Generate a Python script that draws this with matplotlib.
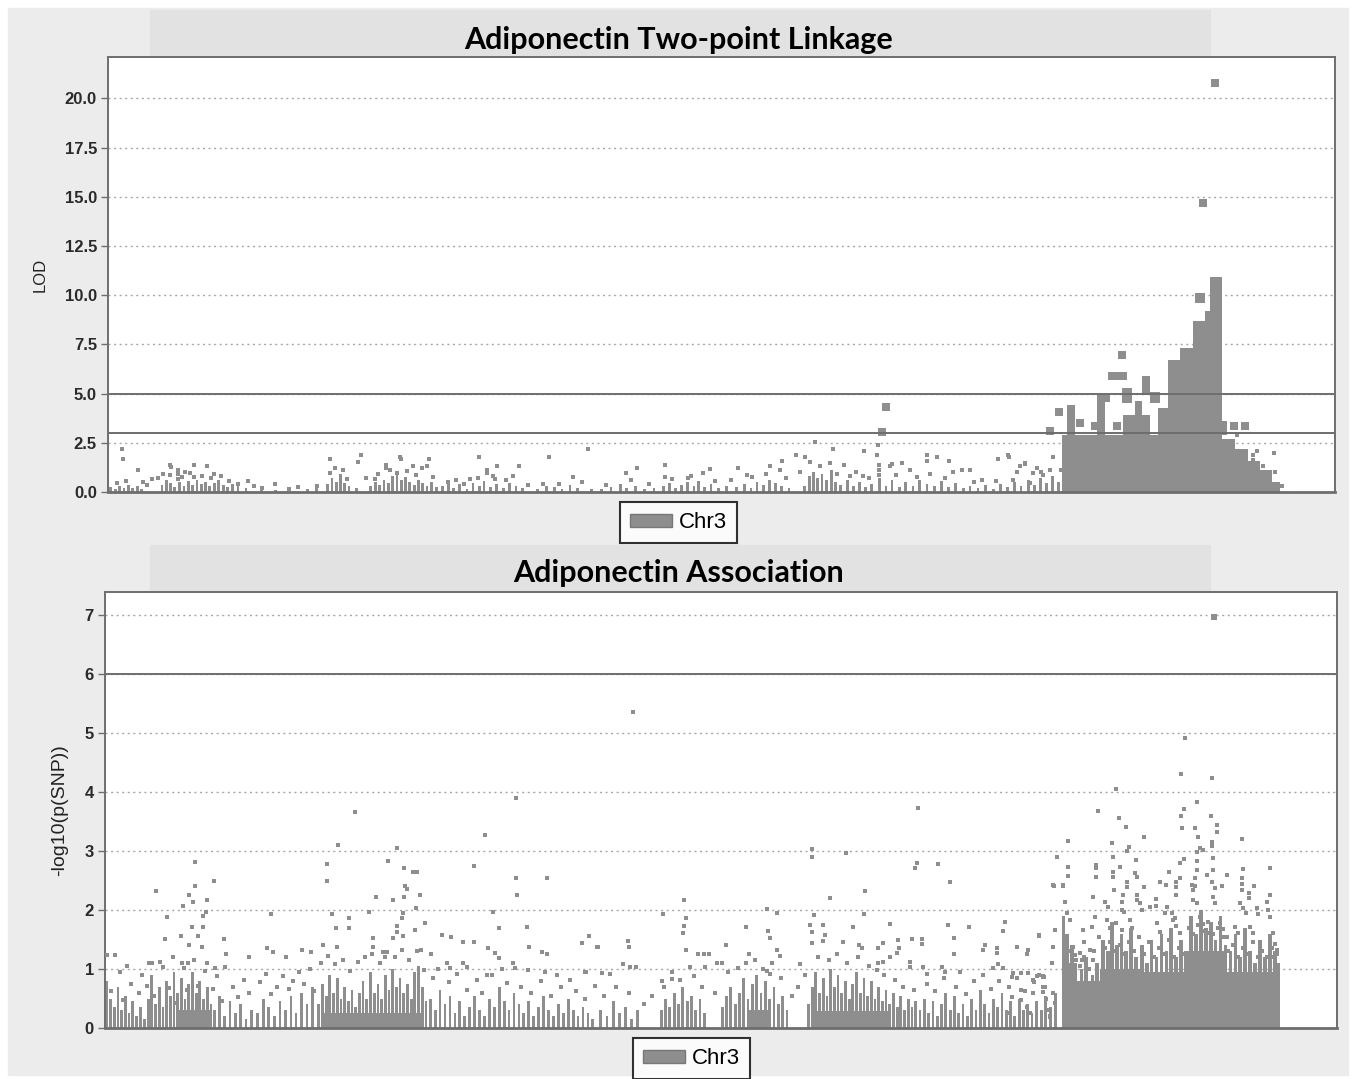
import matplotlib.pyplot as plt
from matplotlib.patches import Rectangle, Patch

GRAY = "#8e8e8e"
FRAME = "#6e6e6e"

# ---------------- two-point linkage (LOD), positions in Mb on Chr3 ----------------
lod_pos = [2.3, 2.4, 4.9, 7.2, 5.7, 10.1, 10.2, 11.4, 11.4, 12.5, 14.0, 16.1, 14.0, 15.3, 17.3,
           10.1, 11.4, 22.8, 21.2, 27.2, 25.1, 34.1, 36.2, 36.2, 38.3, 41.2, 40.8, 45.3, 45.3,
           47.6, 47.8, 49.7, 51.2, 52.3, 52.0, 43.5, 47.1, 60.5, 61.8, 61.8, 63.4, 67.0, 66.0,
           59.0, 60.3, 63.1, 71.9, 78.2, 75.8, 70.9, 55.4,
           115.2, 125.5, 118.2, 123.2, 125.3, 112.1, 113.6, 114.4, 109.9, 117.7, 120.0, 127.8,
           129.4, 133.5, 133.5, 135.1, 137.1, 145.1, 146.9, 149.5, 90.8, 86.2, 84.4, 98.1,
           102.7, 107.9, 109.5, 125.7, 125.7, 125.7, 127.5, 130.7, 137.7, 139.2, 140.5, 148.2,
           152.4, 123.1, 90.8, 104.2, 94.5, 97.0,
           146.7, 154.0, 148.6, 149.5, 150.8, 152.0, 155.4, 147.5, 150.3,
           184.0, 186.7, 186.7, 190.0, 190.3, 187.3, 188.2, 191.3, 189.0,
           1.5, 3.0, 6.3, 8.2, 9.0, 12.0, 13.4, 16.8, 18.5, 19.8, 23.8, 29.5, 31.0, 37.0, 39.0,
           42.0, 44.0, 46.0, 48.8, 50.2, 53.0, 56.8, 58.0, 62.8, 64.8, 68.5, 73.5, 77.2, 81.2,
           85.2, 88.2, 92.0, 95.0, 99.0, 101.5, 105.0, 107.2, 110.5, 112.8, 116.0, 118.9, 121.0,
           122.0, 124.0, 128.5, 131.8, 134.0, 136.5, 141.2, 142.5, 144.8, 151.5, 153.5]
lod_val = [2.2, 1.7, 1.1, 0.65, 0.5, 1.35, 1.25, 1.1, 0.9, 1.0, 1.35, 1.3, 0.75, 0.8, 0.9,
           0.85, 0.65, 0.55, 0.4, 0.4, 0.2, 0.3, 1.7, 0.95, 1.1, 1.9, 1.5, 1.35, 1.2,
           1.8, 1.7, 1.3, 1.2, 1.7, 1.3, 0.65, 0.95, 1.8, 1.1, 0.95, 1.3, 1.3, 0.8,
           0.65, 0.7, 0.65, 1.8, 2.2, 0.75, 0.4, 0.5,
           2.55, 2.4, 2.2, 2.1, 1.9, 1.9, 1.8, 1.5, 1.6, 1.45, 1.35, 1.4,
           1.45, 1.9, 1.6, 1.8, 1.6, 1.7, 1.8, 1.4, 1.35, 1.2, 0.95, 1.15,
           1.2, 1.3, 1.1, 1.35, 1.1, 0.85, 1.3, 1.1, 1.0, 1.1, 1.1, 1.0,
           0.85, 0.8, 0.75, 0.85, 0.7, 0.95,
           1.9, 1.8, 1.3, 1.45, 0.95, 1.0, 1.1, 0.6, 0.45,
           2.9, 1.9, 1.65, 2.0, 1.0, 2.1, 1.3, 0.3, 0.7,
           0.45, 0.55, 0.35, 0.7, 0.9, 0.75, 0.95, 0.7, 0.8, 0.55, 0.3, 0.15, 0.25, 1.2, 0.65,
           0.7, 0.9, 1.1, 1.05, 0.85, 0.75, 0.6, 0.4, 0.8, 0.6, 0.35, 0.4, 0.5, 0.35,
           0.6, 0.4, 0.65, 0.8, 0.55, 0.6, 0.75, 0.9, 0.7, 1.0, 1.3, 0.9, 0.8,
           1.0, 0.7, 0.85, 0.75, 0.9, 0.7, 0.5, 0.6, 0.55, 1.2, 1.1]

# large markers (LOD >= 3)
lod_big_pos = [126.8, 126.2, 153.5, 155.0, 158.4, 160.8, 162.7, 165.2, 164.4, 183.6, 185.3, 178.5, 180.4]
lod_big_val = [4.3, 3.05, 3.1, 4.05, 3.5, 3.35, 4.8, 6.95, 3.35, 3.35, 3.35, 14.7, 20.8]

# runs of overlapping markers close to the baseline
lod_run_pos = [0.4, 1.2, 1.9, 2.6, 3.3, 4.0, 4.8, 5.5,
               8.8, 9.5, 10.2, 10.9, 11.6, 12.4, 13.1, 13.8, 14.5, 15.2, 15.9, 16.6, 17.3, 18.0, 18.8, 19.5, 20.3, 21.2, 22.5,
               25.0, 27.3, 32.5, 34.0,
               35.8, 36.5, 37.2, 37.9, 38.6, 39.3, 40.5,
               42.8, 43.6, 44.3, 45.0, 45.7, 46.4, 47.1, 47.8, 48.5, 49.2, 49.9, 50.6, 51.3, 52.0, 52.7, 53.5,
               54.5, 55.5, 56.3, 57.3, 58.5, 59.5, 60.5, 61.3, 62.3, 63.3, 64.5, 65.5, 66.5, 67.6,
               70.0, 71.5, 72.8, 74.0, 75.3, 76.5, 78.8,
               80.5, 82.0, 83.5, 84.5, 86.0, 87.5, 89.0,
               90.5, 91.5, 92.5, 93.5, 94.5, 95.5, 96.3, 97.2, 98.3, 99.5, 100.8,
               102.5, 103.8, 104.8, 105.8, 106.8, 107.8, 108.8, 109.8, 111.0,
               113.5, 114.3, 115.0, 115.7, 116.4, 117.1, 117.9, 118.6, 119.4, 120.5, 121.5, 122.5, 123.5,
               124.5, 125.7, 126.8, 127.8, 129.0, 130.0, 131.2, 132.3, 133.5, 134.7, 135.8, 137.0, 138.2, 139.4,
               140.5, 141.8, 143.0, 144.3, 145.5, 146.6, 147.7, 148.8, 150.0, 151.0, 152.0, 153.0, 154.0, 154.9]
lod_run_top = [0.25, 0.15, 0.3, 0.2, 0.35, 0.2, 0.3, 0.15,
               0.35, 0.6, 0.45, 0.25, 0.5, 0.3, 0.55, 0.35, 0.6, 0.4, 0.5, 0.3, 0.45, 0.6, 0.35, 0.25, 0.4, 0.3, 0.2,
               0.15, 0.1, 0.15, 0.2,
               0.4, 0.7, 0.5, 0.9, 0.45, 0.3, 0.2,
               0.3, 0.5, 0.35, 0.6, 0.45, 0.8, 1.0, 0.6, 0.75, 0.5, 0.35, 0.6, 0.45, 0.3, 0.5, 0.25,
               0.3, 0.5, 0.2, 0.4, 0.15, 0.45, 0.3, 0.55, 0.25, 0.4, 0.2, 0.45, 0.3, 0.2,
               0.15, 0.3, 0.25, 0.15, 0.35, 0.2, 0.15,
               0.15, 0.25, 0.4, 0.2, 0.3, 0.15, 0.2,
               0.3, 0.45, 0.2, 0.35, 0.5, 0.3, 0.55, 0.25, 0.4, 0.2, 0.3,
               0.25, 0.4, 0.2, 0.5, 0.35, 0.6, 0.45, 0.3, 0.2,
               0.3, 0.8, 1.0, 0.7, 0.9, 0.6, 1.1, 0.5, 0.35, 0.6, 0.3, 0.5, 0.25,
               0.4, 0.7, 0.3, 0.6, 0.25, 0.5, 0.3, 0.6, 0.4, 0.3, 0.55, 0.25, 0.45, 0.2,
               0.3, 0.2, 0.35, 0.15, 0.4, 0.25, 0.5, 0.3, 0.6, 0.35, 0.7, 0.45, 0.8, 0.5]

# solid masses of overlapping markers in the linked region: left, right, low, high
lod_mass_left = [155.5, 181.6, 183.7, 185.8, 187.8, 189.7,
                 156.3, 161.2, 163.0, 165.3, 165.4, 167.4, 168.5, 169.8, 171.2, 172.8, 174.7, 176.9, 177.2, 178.8, 179.6, 181.6]
lod_mass_right = [181.6, 183.7, 185.8, 187.8, 189.7, 191.0,
                  157.6, 162.5, 166.1, 166.9, 169.8, 168.6, 169.8, 171.5, 172.8, 174.7, 176.9, 178.8, 178.8, 179.6, 181.6, 182.4]
lod_mass_low = [0, 0, 0, 0, 0, 0,
                2.9, 2.9, 5.7, 4.5, 2.9, 3.9, 5.0, 4.5, 2.9, 2.9, 2.9, 2.9, 9.6, 2.9, 2.9, 2.9]
lod_mass_high = [2.9, 2.7, 2.2, 1.6, 1.1, 0.5,
                 4.4, 5.0, 6.1, 5.3, 3.9, 4.6, 5.9, 5.1, 4.25, 6.7, 7.3, 8.7, 10.1, 9.2, 10.9, 3.6]
lod_lines = [3.0, 5.0]

# ---------------- association, -log10(p) ----------------
snp_pos = [85.7, 40.6, 66.7, 61.7, 37.8, 47.4, 132.0,
           14.6, 36.0, 36.0, 45.9, 48.5, 50.0, 50.6, 59.9, 8.3, 14.6, 17.7, 13.6, 14.3, 12.7, 16.6,
           15.9, 16.4, 10.1, 9.7, 12.3, 15.1, 14.1, 15.9, 13.6, 15.7, 19.3, 19.6, 26.9, 26.3, 27.3,
           23.4, 29.4, 36.8, 37.5, 39.6, 39.6, 44.0, 42.8, 46.7, 48.7, 49.0, 48.5, 51.1, 48.4, 48.2,
           50.5, 50.3, 51.9, 47.4, 47.4, 46.7, 48.4, 43.5, 43.5, 35.4, 37.7, 32.0, 33.4, 54.7, 56.2,
           58.1, 59.9, 66.7, 66.9, 71.7, 63.0, 63.9, 68.5, 62.2, 63.3, 63.9, 68.8, 70.9, 71.7, 77.4,
           78.6, 79.9, 52.9, 51.3, 45.1, 45.4, 0.3, 1.6, 3.6, 7.1, 7.6, 9.4, 12.5, 13.5, 16.6, 17.9,
           19.5, 66.2, 66.5, 68.7, 71.4, 73.4, 77.9, 55.5, 56.0, 58.1, 58.8, 62.0,
           114.7, 114.7, 120.3, 131.8, 131.5, 135.2, 137.1, 123.3, 117.7, 94.0, 90.6, 94.3, 94.0,
           93.8, 107.4, 109.1, 115.1, 123.2, 104.0, 107.6, 107.9, 114.4, 114.7, 114.7, 116.5, 116.9,
           116.5, 121.4, 119.8, 127.4, 136.8, 140.2, 137.8, 145.7, 151.6, 78.6, 77.4, 80.0, 84.9,
           85.0, 100.8, 96.2, 97.2, 98.0, 94.3, 104.5, 122.4, 122.9, 125.5, 126.3, 128.7, 128.9,
           128.5, 131.0, 132.6, 132.6, 142.8, 142.5, 144.8, 144.8, 148.0, 149.6, 137.8, 109.1, 109.6,
           107.4, 107.9, 84.1, 85.2, 86.2, 78.1, 80.7, 82.0, 73.4, 75.5, 92.0, 90.4, 94.9, 97.4,
           99.3, 100.1, 112.8, 125.5, 126.3, 127.4, 130.7, 130.7, 132.8, 133.4, 135.8, 136.3, 138.8,
           144.1, 144.9, 145.7, 147.4, 149.8, 151.3, 152.2,
           146.1, 148.0, 149.8, 151.7, 153.9, 154.5, 155.5, 152.2, 152.2, 152.2, 150.6, 150.6, 148.7,
           148.7, 148.7, 147.2, 147.2, 149.6, 150.1, 152.9, 153.4, 146.4, 153.7,
           175.3, 174.6, 179.7, 164.2, 177.2, 161.2, 175.1, 164.6, 174.6, 179.5, 165.7, 174.9, 176.9,
           180.5, 180.5, 168.6, 156.3, 163.4, 177.4, 179.7, 184.5, 166.2, 165.9, 177.7, 178.2, 179.7,
           154.5, 163.6, 167.3, 177.2, 177.2, 177.2, 179.8, 179.8, 160.8, 160.8, 164.7, 156.3, 174.5,
           175.1, 184.7, 189.1, 163.6, 163.6, 167.2, 167.5, 172.8, 160.8, 178.9, 182.1, 184.5, 184.5,
           184.5, 174.5, 176.9, 176.9, 171.2, 172.2, 154.0, 155.5, 156.3, 165.9, 165.9, 186.6, 173.8,
           173.8, 176.4, 176.6, 179.7, 180.2, 181.4, 168.6, 163.8, 160.4, 165.2, 167.5, 167.5, 185.7,
           185.7, 189.1, 170.6, 170.6, 173.9, 176.6, 177.2, 179.8, 180.2, 155.8, 162.3, 162.8, 165.1,
           165.1, 165.5, 168.0, 168.3, 169.6, 172.4, 172.0, 173.2, 173.7, 184.2, 184.7, 185.3, 187.0,
           187.1, 188.6, 188.8, 189.1, 156.1, 156.6, 160.2, 160.7, 154.2, 153.9, 158.7, 159.0, 162.6,
           163.1, 164.2, 165.1, 166.4, 166.8, 170.7, 171.2, 173.3, 173.9, 174.5, 177.7, 178.2, 178.9,
           181.0, 181.5, 182.1, 183.4, 183.9, 185.8, 186.3, 189.6, 189.9, 190.2, 157.1, 157.4, 158.2,
           158.6, 159.9, 160.4, 189.1, 189.4, 152.4, 152.6, 152.8, 153.0, 153.9, 154.2, 153.4,
           1.0, 2.5, 3.0, 4.2, 5.5, 6.0, 6.8, 8.0, 9.0, 10.4, 11.0, 11.6, 12.8, 13.3, 14.5, 15.1,
           16.3, 17.5, 18.2, 19.0, 20.8, 21.6, 22.5, 23.3, 25.2, 26.1, 27.0, 28.0, 28.9, 29.8, 30.6,
           31.5, 32.3, 33.2, 34.0, 35.0, 36.2, 37.4, 38.6, 39.8, 41.0, 42.2, 43.4, 44.6, 45.8, 47.0,
           48.2, 49.4, 50.6, 51.8, 53.2, 54.0, 55.8, 57.2, 58.8, 60.4, 61.2, 62.8, 64.4, 65.2, 67.6,
           69.2, 70.8, 72.4, 74.0, 76.4, 78.0, 79.6, 81.0, 83.0, 85.0, 87.5, 88.8, 90.8, 92.0, 93.4,
           95.6, 96.9, 99.0, 101.2, 102.8, 104.0, 105.5, 106.8, 108.2, 109.8, 111.5, 112.5, 113.6,
           115.8, 117.5, 118.8, 120.5, 122.3, 124.0, 125.3, 126.5, 128.3, 129.5, 131.3, 133.4, 134.8,
           136.2, 138.2, 139.8, 141.0, 142.5, 143.8, 145.2, 146.8, 148.0, 149.4, 150.8, 151.6,
           155.9, 156.8, 157.6, 158.2, 159.0, 159.7, 160.6, 161.3, 162.4, 163.2, 163.9, 164.7, 165.4,
           166.2, 167.0, 167.8, 168.7, 169.5, 170.3, 171.1, 171.9, 172.7, 173.5, 174.3, 175.1, 175.9,
           176.7, 177.5, 178.3, 179.1, 179.9, 180.7, 181.5, 182.3, 183.1, 183.9, 184.7, 185.5, 186.3,
           187.1, 187.9, 188.7, 189.5, 190.2]
snp_val = [5.36, 3.66, 3.9, 3.27, 3.1, 3.05, 3.73,
           2.81, 2.78, 2.49, 2.83, 2.71, 2.64, 2.64, 2.75, 2.32, 2.41, 2.49, 2.25, 2.14, 2.07, 2.17,
           1.9, 1.97, 1.88, 1.51, 1.56, 1.56, 1.71, 1.71, 1.41, 1.37, 1.51, 1.25, 1.93, 1.36, 1.29,
           1.2, 1.2, 1.93, 1.69, 1.86, 1.69, 2.22, 1.97, 2.17, 2.41, 2.36, 2.22, 2.25, 1.95, 1.86,
           2.03, 1.66, 1.78, 1.73, 1.63, 1.53, 1.56, 1.53, 1.37, 1.41, 1.37, 1.32, 1.29, 1.58, 1.54,
           1.46, 1.46, 2.54, 2.25, 2.54, 1.97, 1.69, 1.71, 1.36, 1.27, 1.19, 1.37, 1.29, 1.25, 1.44,
           1.56, 1.37, 1.25, 1.32, 1.29, 1.2, 1.24, 1.24, 1.05, 1.1, 1.1, 1.03, 1.1, 1.1, 1.1, 1.02,
           1.03, 1.1, 1.02, 0.98, 0.95, 0.9, 0.95, 1.1, 1.02, 1.1, 1.03, 0.9,
           3.03, 2.9, 2.97, 2.8, 2.71, 2.78, 2.47, 2.32, 2.2, 2.17, 1.93, 1.86, 1.73,
           1.61, 2.02, 1.95, 1.92, 1.93, 1.71, 1.64, 1.53, 1.75, 1.63, 1.44, 1.75, 1.58,
           1.47, 1.71, 1.46, 1.76, 1.75, 1.71, 1.53, 1.64, 1.56, 1.56, 1.44, 1.37, 1.47,
           1.37, 1.41, 1.25, 1.25, 1.25, 1.32, 1.25, 1.41, 1.36, 1.36, 1.44, 1.49, 1.36,
           1.27, 1.51, 1.51, 1.42, 1.41, 1.32, 1.36, 1.27, 1.37, 1.25, 1.25, 1.32, 1.22,
           0.97, 0.92, 1.08, 1.03, 1.03, 0.95, 0.93, 0.92, 0.9, 0.81, 0.83, 0.8, 1.03, 1.03,
           1.1, 1.1, 1.08, 1.1, 1.12, 1.2, 1.12, 1.03, 1.03, 0.92, 1.03, 0.95, 0.95,
           1.02, 1.08, 1.02, 0.93, 0.93, 0.88, 0.88,
           1.8, 1.37, 1.32, 1.58, 2.42, 2.9, 2.42, 0.86, 0.7, 0.61, 0.81, 0.59, 0.93,
           0.64, 0.47, 0.86, 0.52, 0.36, 0.25, 0.3, 0.2, 0.25, 1.1,
           4.92, 4.3, 4.24, 4.05, 3.83, 3.68, 3.71, 3.56, 3.6, 3.6, 3.4, 3.39, 3.39,
           3.44, 3.32, 3.24, 3.17, 3.14, 3.24, 3.15, 3.2, 3.07, 3.0, 3.05, 3.02, 3.08,
           2.9, 2.9, 2.85, 2.98, 2.83, 2.68, 2.88, 2.68, 2.76, 2.71, 2.73, 2.73, 2.8,
           2.86, 2.7, 2.71, 2.64, 2.56, 2.63, 2.56, 2.64, 2.56, 2.59, 2.59, 2.54, 2.44,
           2.34, 2.54, 2.54, 2.41, 2.47, 2.42, 2.41, 2.41, 2.57, 2.47, 2.39, 2.41, 2.47,
           2.39, 2.42, 2.34, 2.47, 2.37, 2.41, 2.39, 2.34, 2.22, 2.25, 2.25, 2.17, 2.29,
           2.2, 2.25, 2.19, 2.07, 2.25, 2.17, 2.12, 2.22, 2.12, 2.14, 2.14, 2.05, 2.14,
           2.0, 1.97, 2.12, 2.0, 2.05, 2.05, 1.95, 1.95, 1.86, 2.12, 2.03, 1.95, 2.03,
           1.93, 2.14, 2.0, 1.88, 1.95, 1.83, 1.71, 1.88, 1.66, 1.37, 1.66, 1.46, 1.83,
           1.69, 1.78, 1.66, 1.83, 1.69, 1.78, 1.63, 1.83, 1.73, 1.61, 1.88, 1.76, 1.61,
           1.78, 1.68, 1.54, 1.71, 1.61, 1.71, 1.61, 1.61, 1.42, 1.32, 1.37, 1.24, 1.27,
           1.15, 1.32, 1.15, 1.37, 1.2, 0.86, 0.7, 0.5, 0.3, 0.59, 0.42, 0.19,
           0.62, 0.95, 0.48, 0.75, 0.6, 0.9, 0.72, 0.55, 1.12, 0.68, 1.2, 0.42, 1.02, 0.64, 1.15, 0.72,
           0.96, 0.66, 0.88, 0.45, 0.7, 0.52, 0.82, 0.6, 0.78, 0.92, 0.58, 0.7, 0.88, 0.66, 0.8,
           0.95, 0.74, 1.0, 0.62, 1.1, 1.22, 1.08, 1.15, 0.96, 1.12, 1.2, 1.25, 1.1, 1.28, 1.2,
           1.32, 1.15, 1.3, 0.98, 0.85, 1.0, 0.78, 0.92, 0.64, 0.82, 0.6, 0.9, 1.0, 0.76, 0.7,
           0.6, 0.8, 0.55, 0.7, 0.62, 0.5, 0.72, 0.55, 0.7, 0.6, 0.4, 0.55, 0.7, 0.95, 0.82,
           0.88, 0.7, 0.6, 0.95, 1.02, 1.1, 1.15, 1.0, 1.1, 0.85, 0.55, 0.7, 0.9,
           1.2, 1.15, 1.25, 1.1, 1.2, 1.05, 0.98, 0.9, 0.82, 0.7, 0.65, 0.75, 0.62,
           0.85, 0.7, 0.58, 0.8, 0.9, 0.66, 0.8, 0.7, 0.85, 0.62, 0.78, 0.9,
           1.45, 1.3, 1.15, 1.05, 1.2, 1.0, 1.3, 1.55, 1.35, 1.45, 1.3, 1.4, 1.25,
           1.45, 1.3, 1.55, 1.25, 1.45, 1.2, 1.35, 1.25, 1.5, 1.2, 1.35, 1.25, 1.7,
           1.6, 1.75, 1.65, 1.8, 1.6, 1.7, 1.55, 1.3, 1.4, 1.2, 1.35, 1.25, 1.45,
           1.2, 1.3, 1.2, 1.35, 1.25]

snp_top_pos = [180.1]
snp_top_val = [6.97]

snp_run_pos = [0.3, 0.9, 1.5, 2.1, 2.7, 3.3, 3.9, 4.5, 5.1, 5.8, 6.4,
               7.0, 7.6, 8.2, 8.8, 9.4, 10.0, 10.6, 11.2, 11.8, 12.4, 13.0, 13.6, 14.2, 14.8, 15.4, 16.0, 16.6, 17.2,
               17.8, 18.6, 19.4, 20.3, 21.2, 22.0, 22.9, 23.8,
               24.8, 25.7, 26.6, 27.5, 28.4, 29.3, 30.2, 31.0, 31.9, 32.8, 33.7,
               34.6, 35.3, 35.9, 36.5, 37.1, 37.7, 38.3, 38.9, 39.5, 40.1, 40.7, 41.3, 41.9, 42.5, 43.1, 43.7,
               44.3, 44.9, 45.5, 46.1, 46.7, 47.3, 47.9, 48.5, 49.1, 49.7, 50.3, 50.9, 51.5, 52.1,
               52.8, 53.6, 54.4, 55.2, 56.0, 56.8, 57.6, 58.4, 59.2, 60.0, 60.8, 61.6, 62.4, 63.2, 64.0, 64.8,
               65.6, 66.4, 67.2, 68.0, 68.8, 69.6, 70.4, 71.2, 72.0, 72.8, 73.6, 74.4, 75.2, 76.0, 76.8, 77.6,
               78.4, 79.2,
               80.5, 81.5, 82.5, 83.5, 84.5, 85.5, 86.5,
               90.3, 91.0, 91.7, 92.4, 93.1, 93.8, 94.5, 95.2, 95.9, 96.6, 97.3,
               100.2, 100.9, 101.6, 102.3, 103.0, 103.7, 104.4, 105.1, 105.8, 106.5, 107.2, 107.9, 108.6,
               109.3, 110.0, 110.7,
               114.2, 114.8, 115.4, 116.0, 116.6, 117.2, 117.8, 118.4, 119.0, 119.6, 120.2, 120.8, 121.4,
               122.0, 122.6, 123.2, 123.8, 124.4, 125.0, 125.6, 126.2, 126.8, 127.4, 128.0, 128.6, 129.2,
               129.8, 130.4, 131.0, 131.6,
               132.3, 133.0, 133.7, 134.4, 135.1, 135.8, 136.5, 137.2, 137.9, 138.6, 139.3, 140.0, 140.7,
               141.4, 142.1, 142.8, 143.5, 144.2, 144.9, 145.6, 146.3, 147.0, 147.7, 148.4, 149.1, 149.8,
               150.5, 151.2, 152.0, 152.7, 153.5, 154.3]
snp_run_top = [0.8, 0.5, 0.35, 0.7, 0.3, 0.55, 0.25, 0.45, 0.2, 0.35, 0.15,
               0.5, 0.9, 0.4, 0.7, 0.35, 0.8, 0.55, 0.95, 0.6, 0.85, 0.5, 0.75, 0.95, 0.6, 0.8, 0.5, 0.7, 0.4,
               0.3, 0.55, 0.2, 0.45, 0.25, 0.4, 0.15, 0.3,
               0.25, 0.5, 0.35, 0.2, 0.45, 0.3, 0.55, 0.25, 0.6, 0.4, 0.7,
               0.4, 0.75, 0.55, 0.9, 0.6, 0.85, 0.5, 0.7, 0.45, 0.65, 0.35, 0.6, 0.8, 0.5, 0.95, 0.6,
               0.75, 0.5, 0.9, 0.65, 1.0, 0.7, 0.85, 0.6, 0.75, 0.5, 0.95, 1.05, 0.7, 0.45,
               0.5, 0.3, 0.65, 0.4, 0.55, 0.25, 0.45, 0.2, 0.35, 0.55, 0.3, 0.2, 0.5, 0.35, 0.7, 0.45,
               0.3, 0.6, 0.4, 0.25, 0.45, 0.2, 0.35, 0.55, 0.3, 0.2, 0.4, 0.25, 0.5, 0.3, 0.2, 0.35,
               0.25, 0.15,
               0.3, 0.2, 0.45, 0.25, 0.35, 0.15, 0.3,
               0.3, 0.5, 0.35, 0.6, 0.4, 0.7, 0.45, 0.55, 0.3, 0.5, 0.25,
               0.35, 0.55, 0.7, 0.4, 0.6, 0.85, 0.5, 0.75, 0.9, 0.6, 0.8, 0.5, 0.7,
               0.4, 0.55, 0.3,
               0.4, 0.7, 0.95, 0.6, 0.85, 0.55, 1.0, 0.7, 0.9, 0.6, 0.8, 0.5, 0.75,
               0.95, 0.6, 0.85, 0.55, 0.8, 0.5, 0.7, 0.45, 0.65, 0.4, 0.6, 0.35, 0.55,
               0.3, 0.5, 0.35, 0.45,
               0.3, 0.5, 0.25, 0.45, 0.2, 0.4, 0.6, 0.3, 0.55, 0.25, 0.4, 0.2, 0.5,
               0.3, 0.65, 0.4, 0.25, 0.5, 0.35, 0.6, 0.3, 0.45, 0.2, 0.5, 0.3, 0.4,
               0.25, 0.45, 0.3, 0.55, 0.35, 0.6]

# tall strings of markers inside the associated region
snp_block_pos = [155.6, 156.2, 157.0, 158.5, 159.3, 160.3, 161.0, 162.0, 162.8, 163.5, 164.3, 165.0, 165.8,
                 166.6, 167.4, 168.3, 169.1, 169.9, 170.7, 171.5, 172.3, 173.1, 173.9, 174.7, 175.5, 176.3,
                 177.1, 177.9, 178.7, 179.5, 180.3, 181.1, 181.9, 182.7, 183.5, 184.3, 185.1, 185.9, 186.7,
                 187.5, 188.3, 189.1, 189.9, 190.4]
snp_block_top = [1.9, 1.6, 1.4, 1.0, 1.2, 0.9, 1.1, 1.5, 1.3, 1.8, 1.4, 1.6, 1.3,
                 1.7, 1.2, 1.4, 1.1, 1.5, 1.2, 1.6, 1.3, 1.7, 1.2, 1.5, 1.3, 1.9,
                 1.6, 2.0, 1.7, 1.8, 1.5, 1.9, 1.4, 1.3, 1.6, 1.2, 1.7, 1.3, 1.1,
                 1.5, 1.2, 1.6, 1.3, 1.1]

snp_mass_left = [155.3, 157.8, 161.5, 168.0, 175.6, 182.1, 11.5, 35.5, 104.5, 115.0]
snp_mass_right = [157.8, 161.5, 168.0, 175.6, 182.1, 190.7, 17.0, 51.8, 107.8, 127.5]
snp_mass_high = [1.1, 0.8, 1.0, 0.95, 1.3, 0.95, 0.3, 0.25, 0.3, 0.28]
snp_lines = [6.0]


def draw_panel(ax, ylim, ticks, ticklabels, ylabel, ylabel_size):
    ax.set_xlim(0, 200)
    ax.set_ylim(*ylim)
    ax.set_xticks([])
    ax.set_yticks(ticks)
    ax.set_yticklabels(ticklabels, fontsize=12, fontweight="bold", color="#2a2a2a",
                       family="Liberation Sans")
    ax.tick_params(axis="y", length=5, width=1, color=FRAME, pad=3)
    ax.set_ylabel(ylabel, fontsize=ylabel_size, color="#222222", family="Liberation Sans", labelpad=12)
    for y in ticks:
        ax.axhline(y, color="#a8a8a8", lw=1, ls=(0, (1.5, 2.5)), zorder=1)
    for s in ax.spines.values():
        s.set_color(FRAME)
        s.set_linewidth(1.4)
    ax.spines["bottom"].set_linewidth(2)
    ax.set_facecolor("white")


fig = plt.figure(figsize=(13.57, 10.79), dpi=100)
fig.patch.set_facecolor("white")
fig.patches.append(Rectangle((8 / 1357, 1 - 1075 / 1079), 1340 / 1357, 1067 / 1079,
                             transform=fig.transFigure, color="#ececec", zorder=-5))
for top in (10, 545):
    fig.patches.append(Rectangle((150 / 1357, 1 - (top + 45) / 1079), 1060 / 1357, 45 / 1079,
                                 transform=fig.transFigure, color="#e2e2e2", zorder=-4))

fig.text(679 / 1357, 1 - 40 / 1079, "Adiponectin Two-point Linkage", ha="center", va="center",
         fontsize=22, fontweight="bold", family="Lato")
fig.text(679 / 1357, 1 - 573 / 1079, "Adiponectin Association", ha="center", va="center",
         fontsize=22, fontweight="bold", family="Lato")

# top panel
ax1 = fig.add_axes([108 / 1357, 1 - 492 / 1079, 1227 / 1357, 435 / 1079])
draw_panel(ax1, (0, 22.1), [0, 2.5, 5, 7.5, 10, 12.5, 15, 17.5, 20],
           ["0.0", "2.5", "5.0", "7.5", "10.0", "12.5", "15.0", "17.5", "20.0"], "LOD", 12)
ax1.bar(lod_mass_left, [h - l for h, l in zip(lod_mass_high, lod_mass_low)],
        width=[r - l for r, l in zip(lod_mass_right, lod_mass_left)], bottom=lod_mass_low,
        align="edge", color=GRAY, linewidth=0, zorder=2)
ax1.bar(lod_run_pos, lod_run_top, width=0.45, color=GRAY, linewidth=0, zorder=2)
ax1.scatter(lod_pos, lod_val, s=8, marker="s", color=GRAY, linewidths=0, zorder=3)
ax1.scatter(lod_big_pos, lod_big_val, s=33, marker="s", color=GRAY, linewidths=0, zorder=3)
for y in lod_lines:
    ax1.axhline(y, color=FRAME, lw=1.4, zorder=4)

# bottom panel
ax2 = fig.add_axes([105 / 1357, 1 - 1028 / 1079, 1232 / 1357, 436 / 1079])
draw_panel(ax2, (0, 7.39), list(range(8)), [str(i) for i in range(8)], "-log10(p(SNP))", 14)
ax2.bar(snp_mass_left, snp_mass_high,
        width=[r - l for r, l in zip(snp_mass_right, snp_mass_left)],
        align="edge", color=GRAY, linewidth=0, zorder=2)
ax2.bar(snp_run_pos, snp_run_top, width=0.45, color=GRAY, linewidth=0, zorder=2)
ax2.bar(snp_block_pos, snp_block_top, width=0.6, color=GRAY, linewidth=0, zorder=2)
ax2.scatter(snp_pos, snp_val, s=8, marker="s", color=GRAY, linewidths=0, zorder=3)
ax2.scatter(snp_top_pos, snp_top_val, s=22, marker="s", color=GRAY, linewidths=0, zorder=3)
for y in snp_lines:
    ax2.axhline(y, color=FRAME, lw=1.4, zorder=4)

for ax, cx in ((ax1, 0.465), (ax2, 0.476)):
    leg = ax.legend(handles=[Patch(facecolor=GRAY, edgecolor="#777777", label="Chr3")],
                    loc="upper center", bbox_to_anchor=(cx, -0.024),
                    prop={"family": "Liberation Sans", "size": 16},
                    frameon=True, fancybox=False, handlelength=1.9, handleheight=0.5,
                    handletextpad=0.3, borderpad=0.45, borderaxespad=0)
    leg.get_frame().set_edgecolor("black")
    leg.get_frame().set_linewidth(1.5)

fig.savefig("out.png", dpi=100)
